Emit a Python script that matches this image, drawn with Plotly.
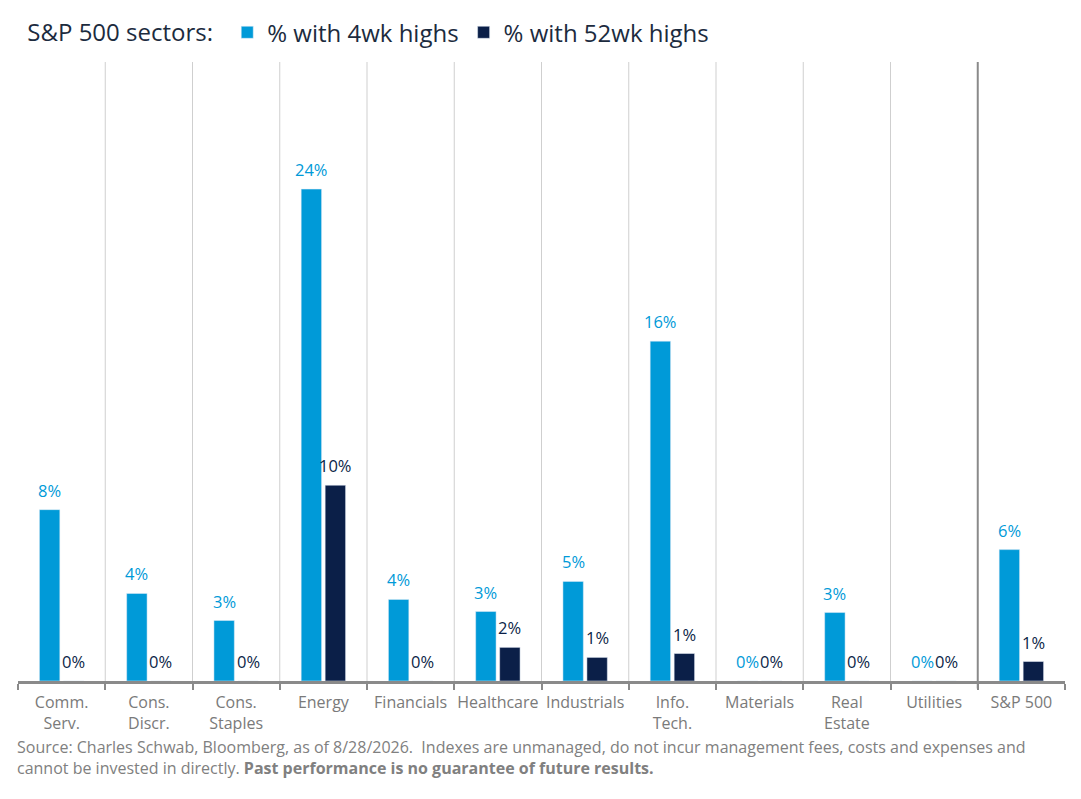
import plotly.graph_objects as go

# sector names (tick labels) and % of stocks at highs
sectors = ["Comm.<br>Serv.", "Cons.<br>Discr.", "Cons.<br>Staples", "Energy", "Financials",
           "Healthcare", "Industrials", "Info.<br>Tech.", "Materials", "Real<br>Estate",
           "Utilities", "S&P 500"]
pct_4wk = [8.36, 4.27, 2.95, 24.0, 3.98, 3.39, 4.86, 16.58, 0.0, 3.34, 0.0, 6.41]
pct_52wk = [0.0, 0.0, 0.0, 9.55, 0.0, 1.64, 1.15, 1.34, 0.0, 0.0, 0.0, 0.95]
# printed labels as shown on the chart
label_4wk = [8, 4, 3, 24, 4, 3, 5, 16, 0, 3, 0, 6]
label_52wk = [0, 0, 0, 10, 0, 2, 1, 1, 0, 0, 0, 1]

BLUE = "#009ad8"
NAVY = "#0b1f48"
FONT = "Open Sans"

W, H = 1065, 783
ML, MR, MT, MB = 10, 8, 54, 110
BARGAP = 0.45

fig = go.Figure()
fig.add_trace(go.Bar(x=sectors, y=pct_4wk, name="% with 4wk highs", marker_color=BLUE))
fig.add_trace(go.Bar(x=sectors, y=pct_52wk, name="% with 52wk highs", marker_color=NAVY))

# value labels above each bar (shifted onto the left / right bar of the group)
cat_px = (W - ML - MR) / len(sectors)
shift = (1 - BARGAP) / 4 * cat_px
annotations = []
for vals, labs, col, sx in [(pct_4wk, label_4wk, BLUE, -shift), (pct_52wk, label_52wk, NAVY, shift)]:
    for s, v, lab in zip(sectors, vals, labs):
        annotations.append(dict(
            x=s, y=v, xref="x", yref="y", text=f"{lab}%", showarrow=False,
            xanchor="center", yanchor="bottom", xshift=sx, yshift=6,
            font=dict(size=16.5, color=col, family=FONT),
        ))

annotations.append(dict(
    xref="paper", yref="paper", x=-0.003, y=-0.086, xanchor="left", yanchor="top",
    align="left", showarrow=False,
    font=dict(size=16, color="#808080", family=FONT),
    text=("Source: Charles Schwab, Bloomberg, as of 8/28/2026.  Indexes are unmanaged, "
          "do not incur management fees, costs and expenses and<br>cannot be invested in "
          "directly. <b>Past performance is no guarantee of future results.</b>"),
))

# separators between sectors, darker one before the index
shapes = []
for i in range(len(sectors) - 1):
    last = i == len(sectors) - 2
    shapes.append(dict(
        type="line", xref="x", yref="paper",
        x0=i + 0.5, x1=i + 0.5, y0=-0.012 if last else 0, y1=1,
        line=dict(color="#8a8a8a" if last else "#cfcfcf", width=2 if last else 1),
        layer="below",
    ))

fig.update_layout(
    width=W, height=H,
    paper_bgcolor="white", plot_bgcolor="white",
    margin=dict(l=ML, r=MR, t=MT, b=MB, autoexpand=False),
    barmode="group", bargap=BARGAP, bargroupgap=0.15,
    font=dict(family=FONT, color="#7a7a7a", size=16),
    shapes=shapes,
    annotations=annotations,
    legend=dict(
        orientation="h", x=0.007, xanchor="left", y=1.011, yanchor="bottom",
        title=dict(text="S&P 500 sectors: ", font=dict(size=24, color="#1c2b3e")),
        font=dict(size=24, color="#1c2b3e"),
        bgcolor="rgba(0,0,0,0)",
    ),
)
fig.update_xaxes(
    type="category", tickson="boundaries", ticks="outside", ticklen=6,
    tickwidth=2, tickcolor="#8a8a8a", showline=True, linecolor="#8a8a8a",
    linewidth=3, showgrid=False, tickfont=dict(size=16, color="#7a7a7a"),
    tickangle=0, ticklabelstandoff=5,
)
fig.update_yaxes(visible=False, range=[0, 30.2])

fig.write_html("out.html")
